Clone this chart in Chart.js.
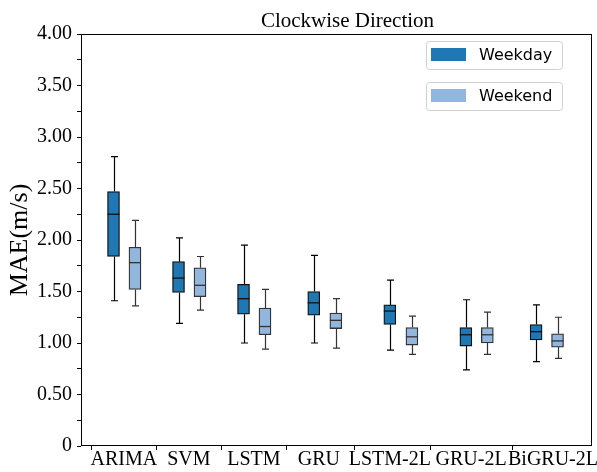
<!DOCTYPE html>
<html><head><meta charset="utf-8">
<script src="https://cdn.jsdelivr.net/npm/chart.js@4.4.0/dist/chart.umd.min.js"></script>
<style>html,body{margin:0;padding:0;background:#fff}</style>
</head><body>
<canvas id="c" width="597" height="472"></canvas>
<script>
// ---- data ----
const categories = ['ARIMA','SVM','LSTM','GRU','LSTM-2L','GRU-2L','BiGRU-2L'];
const seriesNames = ['Weekday','Weekend'];
const tickPositions    = [0.66,1.66,2.66,3.66,4.75,6.00,7.26];
const weekdayPositions = [0.50,1.50,2.50,3.58,4.75,5.92,7.00];
const weekendPositions = [0.83,1.83,2.83,3.92,5.09,6.25,7.33];
const weekdayMin    = [1.41,1.19,1.00,1.00,0.93,0.74,0.82];
const weekdayQ1     = [1.84,1.49,1.28,1.27,1.18,0.97,1.03];
const weekdayMedian = [2.25,1.63,1.43,1.39,1.31,1.08,1.11];
const weekdayQ3     = [2.47,1.79,1.57,1.50,1.37,1.15,1.18];
const weekdayMax    = [2.81,2.02,1.95,1.85,1.61,1.42,1.37];
const weekendMin    = [1.36,1.32,0.94,0.95,0.89,0.89,0.85];
const weekendQ1     = [1.52,1.45,1.08,1.14,0.98,1.00,0.96];
const weekendMedian = [1.78,1.56,1.16,1.22,1.06,1.08,1.02];
const weekendQ3     = [1.93,1.73,1.34,1.29,1.15,1.15,1.09];
const weekendMax    = [2.19,1.84,1.52,1.43,1.26,1.30,1.25];
const yMin = 0, yMax = 4, yStep = 0.25;

const SERIF = "'Liberation Serif', 'Times New Roman', serif";
const SANS = "'DejaVu Sans', sans-serif";

function mkDataset(label, pos, q1, q3, med, lo, hi, fill, edge, whisker){
  return {
    label,
    data: pos.map((p,i)=>({x:p, y:[q1[i], q3[i]]})),
    medians: med, lows: lo, highs: hi, whiskerColor: whisker,
    backgroundColor: fill, borderColor: edge, borderWidth: 1.3,
    borderSkipped: false, barThickness: 12, grouped: false
  };
}

const boxPlugin = {
  id: 'boxParts',
  beforeDatasetsDraw(chart){
    const ctx = chart.ctx, xs = chart.scales.x, ys = chart.scales.y;
    chart.data.datasets.forEach(ds=>{
      ctx.save();
      ctx.strokeStyle = ds.whiskerColor; ctx.lineWidth = 1.2;
      ds.data.forEach((d,i)=>{
        const x = Math.round(xs.getPixelForValue(d.x)) + 0.5;
        const yLo = ys.getPixelForValue(ds.lows[i]);
        const yHi = ys.getPixelForValue(ds.highs[i]);
        const yQ1 = ys.getPixelForValue(d.y[0]);
        const yQ3 = ys.getPixelForValue(d.y[1]);
        ctx.beginPath();
        ctx.moveTo(x, yLo); ctx.lineTo(x, yQ1);
        ctx.moveTo(x, yQ3); ctx.lineTo(x, yHi);
        ctx.moveTo(x-3.5, yLo); ctx.lineTo(x+3.5, yLo);
        ctx.moveTo(x-3.5, yHi); ctx.lineTo(x+3.5, yHi);
        ctx.stroke();
      });
      ctx.restore();
    });
  },
  afterDatasetsDraw(chart){
    const ctx = chart.ctx, ys = chart.scales.y;
    chart.data.datasets.forEach((ds,di)=>{
      const meta = chart.getDatasetMeta(di);
      ctx.save();
      ctx.strokeStyle = ds.borderColor; ctx.lineWidth = 1.3;
      meta.data.forEach((bar,i)=>{
        const y = ys.getPixelForValue(ds.medians[i]);
        const w = bar.width;
        ctx.beginPath();
        ctx.moveTo(bar.x - w/2, y); ctx.lineTo(bar.x + w/2, y);
        ctx.stroke();
      });
      ctx.restore();
    });
  },
  afterDraw(chart){
    const ctx = chart.ctx, a = chart.chartArea;
    ctx.save();
    // frame
    ctx.strokeStyle = '#000'; ctx.lineWidth = 1;
    ctx.strokeRect(Math.round(a.left)+0.5, Math.round(a.top)+0.5,
                   Math.round(a.right-a.left)-1, Math.round(a.bottom-a.top)-1);
    // title
    ctx.fillStyle = '#000';
    ctx.font = '21px ' + SERIF;
    ctx.textAlign = 'center'; ctx.textBaseline = 'alphabetic';
    ctx.fillText('Clockwise Direction', (a.left+a.right)/2 + 11, 27);
    // legend: two separate framed entries
    const bw = 136, bh = 28;
    const bx = a.right - 30 - bw;
    chart.data.datasets.forEach((ds,i)=>{
      const by = a.top + 7 + i*41;
      ctx.beginPath();
      ctx.roundRect(bx+0.5, by+0.5, bw, bh, 3);
      ctx.fillStyle = 'rgba(255,255,255,0.85)'; ctx.fill();
      ctx.strokeStyle = '#d0d0d0'; ctx.lineWidth = 1; ctx.stroke();
      ctx.fillStyle = ds.backgroundColor;
      ctx.fillRect(bx+5, by+7, 35, 13);
      ctx.fillStyle = '#000';
      ctx.font = '16px ' + SANS;
      ctx.textAlign = 'left'; ctx.textBaseline = 'middle';
      ctx.fillText(ds.label, bx+53, by+bh/2+1);
    });
    ctx.restore();
  }
};

new Chart(document.getElementById('c'), {
  type: 'bar',
  data: {
    datasets: [
      mkDataset(seriesNames[0], weekdayPositions, weekdayQ1, weekdayQ3, weekdayMedian, weekdayMin, weekdayMax, '#1f77b4', '#111111', '#000000'),
      mkDataset(seriesNames[1], weekendPositions, weekendQ1, weekendQ3, weekendMedian, weekendMin, weekendMax, '#92b6de', '#333333', '#333333')
    ]
  },
  options: {
    responsive: false, animation: false, devicePixelRatio: 1, events: [],
    layout: { padding: { top: 34, right: 5, left: 0, bottom: 0 } },
    plugins: { legend: { display: false }, title: { display: false }, tooltip: { enabled: false } },
    scales: {
      x: {
        type: 'linear', min: 0, max: 7.86, offset: false,
        afterBuildTicks: s => { s.ticks = tickPositions.map(v => ({ value: v })); },
        afterFit: s => { s.height = 26; },
        ticks: {
          autoSkip: false, maxRotation: 0, minRotation: 0, padding: -2,
          color: '#000', font: { family: SERIF, size: 20 },
          callback: (v, i) => categories[i]
        },
        grid: { display: true, drawOnChartArea: false, drawTicks: true, tickLength: 4, tickColor: '#000', tickWidth: 1 },
        border: { display: false }
      },
      y: {
        min: yMin, max: yMax,
        afterFit: s => { s.width = 81; },
        ticks: {
          stepSize: yStep, autoSkip: false, padding: 5,
          color: '#000', font: { family: SERIF, size: 20 },
          callback: v => {
            const isMajor = Math.abs(v*2 - Math.round(v*2)) < 1e-6;
            if (!isMajor) return '';
            return v === 0 ? '0' : v.toFixed(2);
          }
        },
        grid: { display: true, drawOnChartArea: false, drawTicks: true, tickLength: 4, tickColor: '#000', tickWidth: 1 },
        border: { display: false },
        title: { display: true, text: 'MAE(m/s)', color: '#000', font: { family: SERIF, size: 26 }, padding: { top: 5, bottom: 0 } }
      }
    }
  },
  plugins: [boxPlugin]
});
</script>
</body></html>
